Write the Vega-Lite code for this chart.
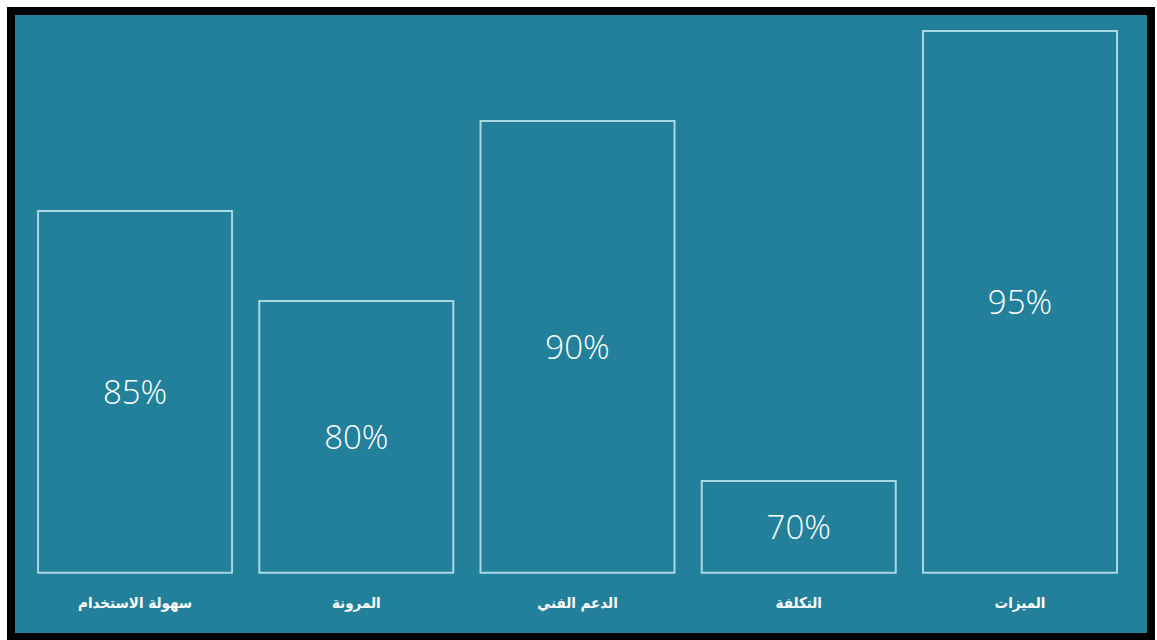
{
  "$schema": "https://vega.github.io/schema/vega-lite/v6.json",
  "width": 1140,
  "height": 626,
  "autosize": "none",
  "padding": {"left": 11, "top": 11, "right": 6, "bottom": 3},
  "background": "#ffffff",
  "config": {
    "view": {"fill": "#23809A", "stroke": "#000000", "strokeWidth": 8}
  },
  "data": {
    "values": [
      {"category": "سهولة الاستخدام", "value": 85, "label": "85%"},
      {"category": "المرونة", "value": 80, "label": "80%"},
      {"category": "الدعم الفني", "value": 90, "label": "90%"},
      {"category": "التكلفة", "value": 70, "label": "70%"},
      {"category": "الميزات", "value": 95, "label": "95%"}
    ]
  },
  "encoding": {
    "x": {
      "field": "category",
      "type": "nominal",
      "sort": null,
      "scale": {"paddingInner": 0.123, "paddingOuter": 0.138, "align": 0.443},
      "axis": null
    }
  },
  "layer": [
    {
      "mark": {"type": "bar", "fill": "#23809A", "stroke": "#A8D8E3", "strokeWidth": 2},
      "encoding": {
        "y": {"field": "value", "type": "quantitative", "scale": {"domain": [61.33, 96.11], "nice": false, "zero": false}, "axis": null},
        "y2": {"datum": 64.9}
      }
    },
    {
      "mark": {"type": "text", "color": "#ffffff", "fontSize": 15, "fontWeight": "bold", "font": "DejaVu Sans Condensed", "baseline": "middle"},
      "encoding": {
        "y": {"datum": 63.2, "type": "quantitative", "scale": {"domain": [61.33, 96.11], "nice": false, "zero": false}, "axis": null},
        "text": {"field": "category"}
      }
    },
    {
      "mark": {"type": "text", "color": "#ffffff", "fontSize": 33, "font": "Open Sans", "fontWeight": 300, "baseline": "middle", "dy": 2},
      "encoding": {
        "y": {"field": "value", "type": "quantitative", "scale": {"domain": [57.78, 127.33], "nice": false, "zero": false}, "axis": null},
        "text": {"field": "label"}
      }
    }
  ],
  "resolve": {"scale": {"y": "independent"}}
}
